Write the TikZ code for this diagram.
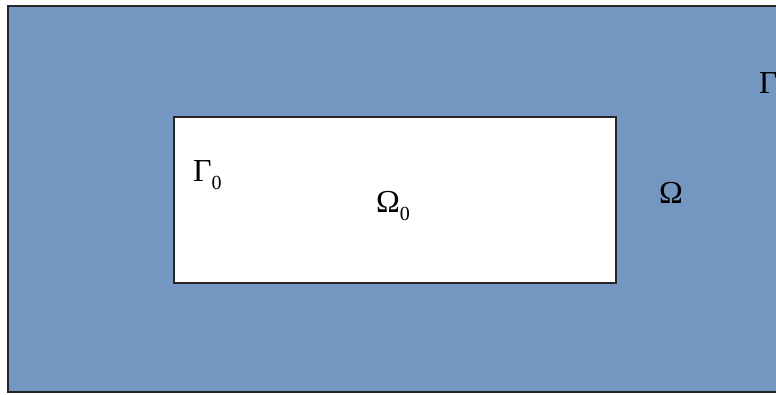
\documentclass[tikz,border=0pt]{standalone}
\usepackage{fontspec}
\setmainfont{Liberation Serif}
\usetikzlibrary{positioning}
\definecolor{domainblue}{RGB}{116,151,193}

\begin{document}
\begin{tikzpicture}[
    x=1pt, y=-1pt,
    region/.style={draw=black!85, line width=1.6pt},
    lbl/.style={anchor=base west, inner sep=0pt, font=\fontsize{32}{32}\selectfont}
]
\useasboundingbox (0,0) rectangle (776,394);
\clip (0,0) rectangle (776,394);

\draw[region, fill=domainblue] (8,6) rectangle (800,392);

\draw[region, fill=white] (174,117) rectangle (616,283);

\node[lbl] (gamma) at (759,93) {Γ};

\node[lbl] (gamma0) at (193,181) {Γ\raisebox{-8pt}{\fontsize{20}{20}\selectfont 0}};

\node[lbl] (omega0) at (376,212) {Ω\raisebox{-8pt}{\fontsize{20}{20}\selectfont 0}};

\node[lbl] (omega) at (659,203) {Ω};

\end{tikzpicture}
\end{document}
